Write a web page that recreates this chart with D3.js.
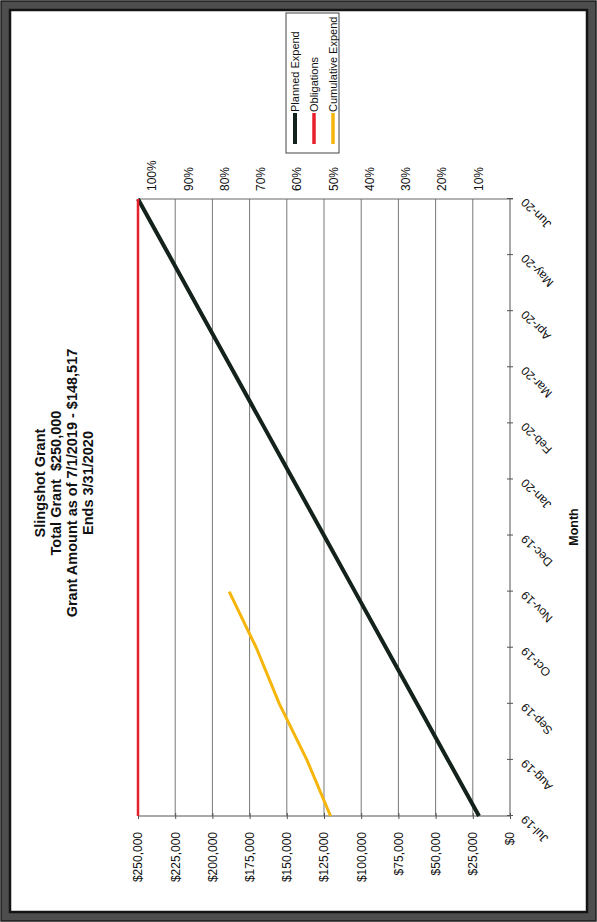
<!DOCTYPE html>
<html>
<head>
<meta charset="utf-8">
<script src="https://cdn.jsdelivr.net/npm/d3@7"></script>
<style>
  html, body { margin: 0; padding: 0; background: #fff; }
  svg { display: block; font-family: "Liberation Sans", Arial, sans-serif; }
  .grid line { stroke: #777; stroke-width: 1; }
  .axis path, .axis line { stroke: #555; stroke-width: 1; }
  .axis text { fill: #111; font-size: 12px; }
</style>
</head>
<body>
<div id="chart"></div>
<script>
// Chart data
const months = ["Jul-19", "Aug-19", "Sep-19", "Oct-19", "Nov-19", "Dec-19",
                "Jan-20", "Feb-20", "Mar-20", "Apr-20", "May-20", "Jun-20"];
const plannedExpend = [20833, 41667, 62500, 83333, 104167, 125000,
                       145833, 166667, 187500, 208333, 229167, 250000];
const obligations = [250000, 250000, 250000, 250000, 250000, 250000,
                     250000, 250000, 250000, 250000, 250000, 250000];
const cumulativeExpend = [120600, 136500, 155000, 170500, 188700];
const dollarTicks = [0, 25000, 50000, 75000, 100000, 125000,
                     150000, 175000, 200000, 225000, 250000];
const percentTicks = [0.1, 0.2, 0.3, 0.4, 0.5, 0.6, 0.7, 0.8, 0.9, 1.0];
const titleLines = ["Slingshot Grant", "Total Grant\u00a0 $250,000",
                    "Grant Amount as of 7/1/2019 - $148,517", "Ends 3/31/2020"];

const series = [
    { name: "Planned Expend", values: plannedExpend, color: "#13221a", width: 4 },
    { name: "Obligations", values: obligations, color: "#e8202c", width: 2.5 },
    { name: "Cumulative Expend", values: cumulativeExpend, color: "#f5b50a", width: 3 }
];

const W = 597, H = 922;

const svg = d3.select("#chart").append("svg")
    .attr("width", W)
    .attr("height", H);

svg.append("rect").attr("width", W).attr("height", H).attr("fill", "#fff");

// Page frame (drawn in page coords)
const frame = svg.append("g").attr("fill", "none");
frame.append("rect").attr("x", 5).attr("y", 5).attr("width", W - 10).attr("height", H - 10)
    .attr("stroke", "#4e4e4e").attr("stroke-width", 8);
frame.append("rect").attr("x", 1).attr("y", 1).attr("width", W - 2).attr("height", H - 2)
    .attr("stroke", "#1c1c1c").attr("stroke-width", 1.5);
frame.append("rect").attr("x", 10).attr("y", 10).attr("width", W - 20).attr("height", H - 20)
    .attr("stroke", "#141414").attr("stroke-width", 2.5);

// The chart is printed landscape, so draw it in its own orientation and turn it
const g = svg.append("g").attr("transform", `translate(0,${H}) rotate(-90)`);

const plot = { left: 106, right: 723, top: 138, bottom: 510 };

const x = d3.scalePoint().domain(months).range([plot.left, plot.right]);
const y = d3.scaleLinear().domain([0, 250000]).range([plot.bottom, plot.top]);
const yPct = d3.scaleLinear().domain([0, 1]).range([plot.bottom + 4.5, plot.top + 14]);

// Gridlines
g.append("g").attr("class", "grid")
    .selectAll("line")
    .data(dollarTicks.filter(d => d > 0))
    .enter().append("line")
    .attr("x1", plot.left).attr("x2", plot.right)
    .attr("y1", d => y(d)).attr("y2", d => y(d));

// plot border on the far side
g.append("line")
    .attr("x1", plot.right).attr("x2", plot.right)
    .attr("y1", plot.top).attr("y2", plot.bottom + 3)
    .attr("stroke", "#666").attr("stroke-width", 1);

// Dollar axis
const yAxis = g.append("g").attr("class", "axis")
    .attr("transform", `translate(${plot.left},0)`)
    .call(d3.axisLeft(y).tickValues(dollarTicks).tickSize(3).tickPadding(13)
        .tickFormat(d => "$" + d3.format(",")(d)));
yAxis.select(".domain").attr("d", `M0,${plot.bottom}V${plot.top}`);
yAxis.selectAll(".tick line").attr("x1", 3);

// Month axis
const xAxis = g.append("g").attr("class", "axis")
    .attr("transform", `translate(0,${plot.bottom})`)
    .call(d3.axisBottom(x).tickSize(3).tickPadding(6));
xAxis.select(".domain").attr("d", `M${plot.left},0H${plot.right}`);
xAxis.selectAll(".tick line").attr("y1", -3);
xAxis.selectAll(".tick text")
    .attr("text-anchor", "end")
    .attr("dy", "0.35em")
    .attr("transform", "translate(-2,13) rotate(-45)")
    .attr("x", 0).attr("y", 0);

// Percent axis (labels only)
const pAxis = g.append("g").attr("class", "axis")
    .attr("transform", `translate(${plot.right + 8},0)`)
    .call(d3.axisRight(yPct).tickValues(percentTicks).tickSize(0).tickPadding(0)
        .tickFormat(d3.format(".0%")));
pAxis.select(".domain").remove();

// Series lines
const line = d3.line()
    .x((d, i) => x(months[i]))
    .y(d => y(d));

g.append("g").selectAll("path")
    .data(series)
    .enter().append("path")
    .attr("fill", "none")
    .attr("stroke", d => d.color)
    .attr("stroke-width", d => d.width)
    .attr("stroke-linejoin", "round")
    .attr("d", d => line(d.values));

// Axis title
g.append("text")
    .attr("x", 395).attr("y", 578)
    .attr("text-anchor", "middle")
    .attr("font-size", 12.5).attr("font-weight", "bold")
    .attr("fill", "#111")
    .text("Month");

// Title
g.append("g").selectAll("text")
    .data(titleLines)
    .enter().append("text")
    .attr("x", 439)
    .attr("y", (d, i) => 45 + i * 16)
    .attr("text-anchor", "middle")
    .attr("font-size", 14.5).attr("font-weight", "bold")
    .attr("fill", "#111")
    .text(d => d);

// Legend
const legend = g.append("g").attr("transform", "translate(769,286)");
legend.append("rect")
    .attr("width", 140).attr("height", 53)
    .attr("fill", "#fff").attr("stroke", "#444").attr("stroke-width", 1);
const entry = legend.selectAll(".entry")
    .data(series)
    .enter().append("g")
    .attr("class", "entry")
    .attr("transform", (d, i) => `translate(0,${9 + i * 19})`);
entry.append("line")
    .attr("x1", 9).attr("x2", 40)
    .attr("stroke", d => d.color)
    .attr("stroke-width", d => Math.max(d.width, 3.5));
entry.append("text")
    .attr("x", 41).attr("dy", "0.35em")
    .attr("font-size", 11).attr("fill", "#111")
    .text(d => d.name);
</script>
</body>
</html>
